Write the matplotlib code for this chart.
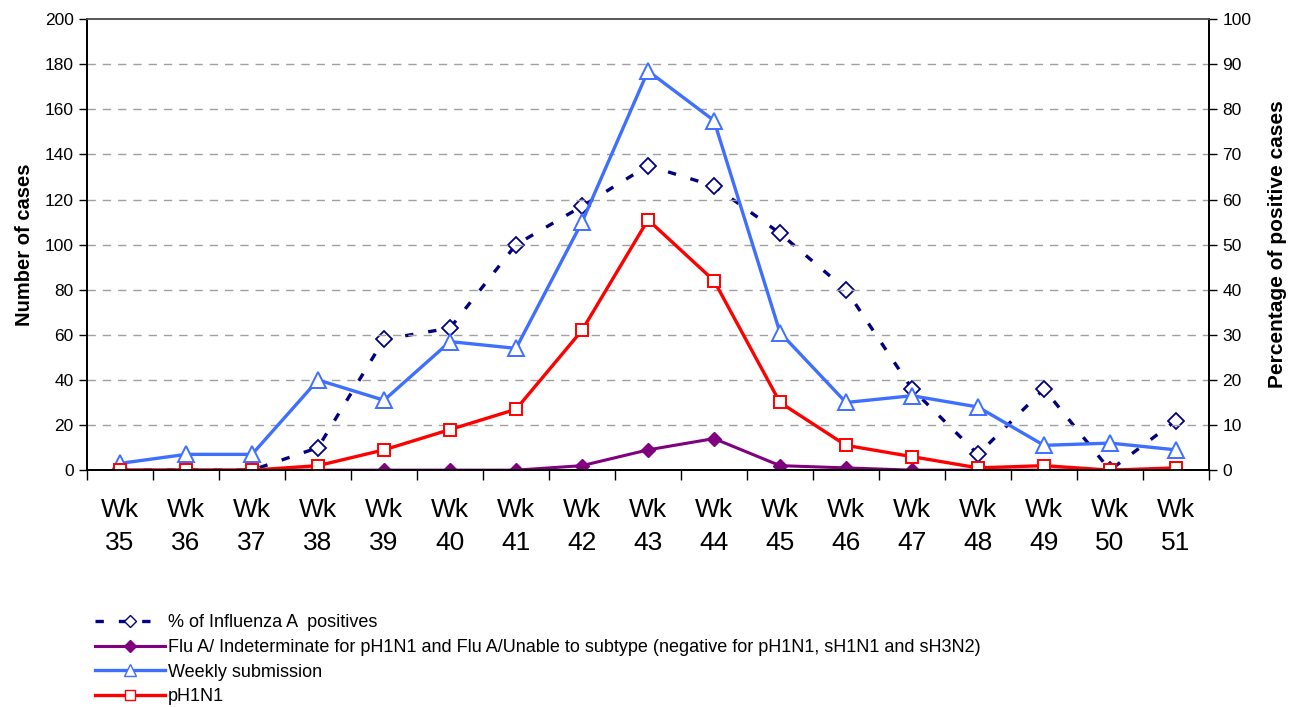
import matplotlib
matplotlib.use("Agg")
import matplotlib.pyplot as plt
from matplotlib.lines import Line2D
import numpy as np

plt.rcParams["font.family"] = ["Liberation Sans", "DejaVu Sans"]

weeks = ["Wk\n35", "Wk\n36", "Wk\n37", "Wk\n38", "Wk\n39", "Wk\n40", "Wk\n41", "Wk\n42",
         "Wk\n43", "Wk\n44", "Wk\n45", "Wk\n46", "Wk\n47", "Wk\n48", "Wk\n49", "Wk\n50", "Wk\n51"]
weekly_submission = [3, 7, 7, 40, 31, 57, 54, 110, 177, 155, 61, 30, 33, 28, 11, 12, 9]
ph1n1 = [0, 0, 0, 2, 9, 18, 27, 62, 111, 84, 30, 11, 6, 1, 2, 0, 1]
flu_a_indeterminate = [0, 0, 0, 0, 0, 0, 0, 2, 9, 14, 2, 1, 0, 0, 0, 0, 0]
pct_flu_a_positive = [0, 0, 0, 5, 29, 31.5, 50, 58.5, 67.5, 63, 52.5, 40, 18, 3.5, 18, 0, 11]

NAVY = "#000080"
PURPLE = "#800080"
BLUE = "#3F6FFF"
RED = "#FF0000"

x = np.arange(len(weeks))

fig = plt.figure(figsize=(12.91, 7.07), dpi=100)
ax = fig.add_axes([0.0674, 0.335, 0.8691, 0.638])
ax2 = ax.twinx()

# percentage series sits behind the case counts
ax.set_zorder(ax2.get_zorder() + 1)
ax.patch.set_visible(False)

ax2.plot(x, pct_flu_a_positive, color=NAVY, lw=2.4, dashes=(2.5, 4.5),
         marker="D", ms=8, mfc="white", mec=NAVY, mew=1.3)

ax.plot(x, flu_a_indeterminate, color=PURPLE, lw=2.2, marker="D", ms=7,
        mfc=PURPLE, mec=PURPLE)
ax.plot(x, weekly_submission, color=BLUE, lw=2.4, marker="^", ms=11,
        mfc="white", mec=BLUE, mew=1.4)
ax.plot(x, ph1n1, color=RED, lw=2.4, marker="s", ms=8,
        mfc="white", mec=RED, mew=1.4)

ax.set_xlim(-0.5, len(weeks) - 0.5)
ax.set_ylim(0, 200)
ax2.set_ylim(0, 100)
ax.set_yticks(np.arange(0, 201, 20))
ax2.set_yticks(np.arange(0, 101, 10))

ax.set_xticks(x)
ax.set_xticklabels(weeks, fontsize=19, linespacing=1.5)
ax.set_xticks(np.arange(-0.5, len(weeks), 1), minor=True)
ax.tick_params(axis="x", which="major", length=0, pad=20)
ax.tick_params(axis="x", which="minor", length=7, width=1, direction="out")
ax.tick_params(axis="y", labelsize=12.5, length=6, width=1, direction="out")
ax2.tick_params(axis="y", labelsize=12.5, length=6, width=1, direction="out")

for a in (ax, ax2):
    for side in ("left", "right", "bottom"):
        a.spines[side].set_color("black")
        a.spines[side].set_linewidth(1.3)
    a.spines["top"].set_color("#555555")
    a.spines["top"].set_linewidth(1.2)

for yv in range(20, 200, 20):
    ax.axhline(yv, color="#A0A0A0", lw=1, dashes=(6, 5), zorder=0)

ax.set_ylabel("Number of cases", fontsize=14.5, fontweight="bold", labelpad=8)
ax2.set_ylabel("Percentage of positive cases", fontsize=15, fontweight="bold", labelpad=12)

handles = [
    Line2D([], [], color=NAVY, lw=2.4, dashes=(2.5, 4.5), marker="D", ms=6,
           mfc="white", mec=NAVY),
    Line2D([], [], color=PURPLE, lw=2.2, marker="D", ms=6, mfc=PURPLE, mec=PURPLE),
    Line2D([], [], color=BLUE, lw=2.4, marker="^", ms=8, mfc="white", mec=BLUE),
    Line2D([], [], color=RED, lw=2.4, marker="s", ms=7, mfc="white", mec=RED),
]
labels = [
    "% of Influenza A  positives",
    "Flu A/ Indeterminate for pH1N1 and Flu A/Unable to subtype (negative for pH1N1, sH1N1 and sH3N2)",
    "Weekly submission",
    "pH1N1",
]
fig.legend(handles, labels, loc="upper left", bbox_to_anchor=(0.0736, 0.131),
           frameon=False, fontsize=13, handlelength=3.85, handletextpad=0.17,
           labelspacing=0.42, borderaxespad=0, borderpad=0)

fig.savefig("out.png", dpi=100)
